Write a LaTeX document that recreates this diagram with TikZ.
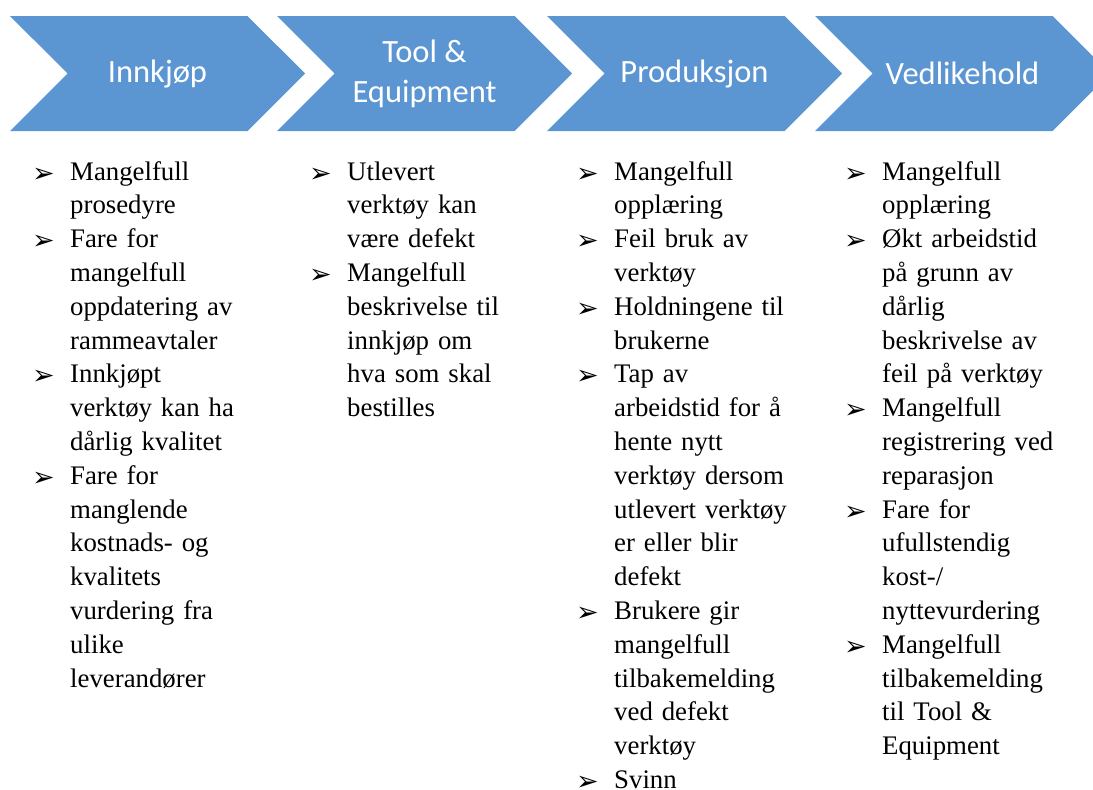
\documentclass[tikz,border=0pt]{standalone}
\usepackage{fontspec}
\setmainfont{Liberation Serif}
\newfontfamily\titlefont{Carlito}
\newfontfamily\symfont{DejaVu Sans}
\usetikzlibrary{shapes.symbols}
\definecolor{phaseblue}{HTML}{5B96D3}
% bullet and one list point with hanging indent
\newcommand\bul{\raisebox{-2pt}{\symfont\fontsize{27}{27}\selectfont ➢}}
\newcommand\pkt{\hangindent=38pt\hangafter=1\makebox[38pt][l]{\bul}}

\begin{document}
\begin{tikzpicture}[x=1pt, y=-1pt,
    phase/.style={signal, signal to=east, signal from=west, signal pointer angle=90, fill=phaseblue, minimum width=295pt, minimum height=115pt, inner sep=0pt, text=white, align=center, font=\titlefont\fontsize{32.5}{40}\selectfont},
    risks/.style={anchor=base west, inner sep=0pt, text width=250pt, align=left, font=\fontsize{26.8}{33.8}\selectfont}
]
    \useasboundingbox (0,0) rectangle (1093,790);
    \clip (0,0) rectangle (1093,790);

    % Phases
    \node[phase] (innkjop) at (157.5,73.5) {Innkjøp};
    \node[phase] (tool) at (424.5,73.5) {Tool \&\\Equipment};
    \node[phase] (prod) at (694.5,73.5) {Produksjon};
    \node[phase] (vedl) at (962.5,73.5) {Vedlikehold};

    % Risks per phase
    \node[risks] (innkjop-list) at (32,180) {\pkt Mangelfull\newline prosedyre
        \par\pkt Fare for\newline mangelfull\newline oppdatering av\newline rammeavtaler
        \par\pkt Innkjøpt\newline verktøy kan ha\newline dårlig kvalitet
        \par\pkt Fare for\newline manglende\newline kostnads- og\newline kvalitets\newline vurdering fra\newline ulike\newline leverandører\par};
    \node[risks] (tool-list) at (309,180) {\pkt Utlevert\newline verktøy kan\newline være defekt
        \par\pkt Mangelfull\newline beskrivelse til\newline innkjøp om\newline hva som skal\newline bestilles\par};
    \node[risks] (prod-list) at (576,180) {\pkt Mangelfull\newline opplæring
        \par\pkt Feil bruk av\newline verktøy
        \par\pkt Holdningene til\newline brukerne
        \par\pkt Tap av\newline arbeidstid for å\newline hente nytt\newline verktøy dersom\newline utlevert verktøy\newline er eller blir\newline defekt
        \par\pkt Brukere gir\newline mangelfull\newline tilbakemelding\newline ved defekt\newline verktøy
        \par\pkt Svinn\par};
    \node[risks] (vedl-list) at (844,180) {\pkt Mangelfull\newline opplæring
        \par\pkt Økt arbeidstid\newline på grunn av\newline dårlig\newline beskrivelse av\newline feil på verktøy
        \par\pkt Mangelfull\newline registrering ved\newline reparasjon
        \par\pkt Fare for\newline ufullstendig\newline kost-/\newline nyttevurdering
        \par\pkt Mangelfull\newline tilbakemelding\newline til Tool \&\newline Equipment\par};
\end{tikzpicture}
\end{document}
